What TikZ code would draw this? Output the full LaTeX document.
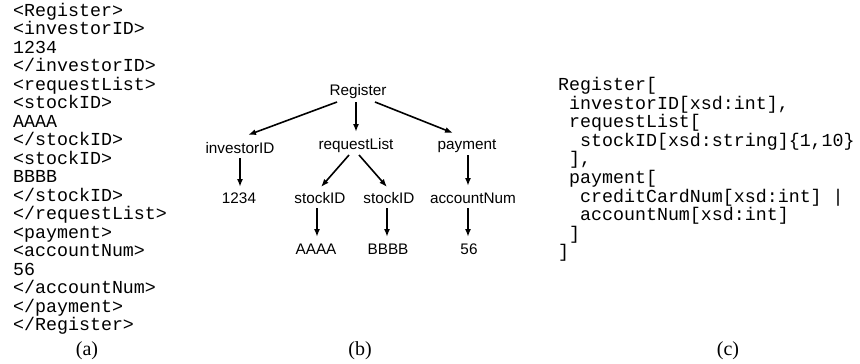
\documentclass[tikz,border=0pt]{standalone}
\usepackage{fontspec}
\setmainfont{Liberation Serif}
\setsansfont{Liberation Sans}
\setmonofont{Liberation Mono}
\usetikzlibrary{arrows.meta}
\begin{document}
\begin{tikzpicture}[x=1pt,y=-1pt,
  code/.style={inner sep=0pt, anchor=north west, align=left, font=\ttfamily\fontsize{18.3}{18.5}\selectfont},
  tn/.style={inner sep=0pt, anchor=base, font=\sffamily\fontsize{15.3}{15.3}\selectfont},
  captext/.style={inner sep=0pt, anchor=base, font=\rmfamily\fontsize{20}{20}\selectfont},
  arr/.style={line width=1.6pt, -{Latex[length=8pt,width=6pt]}}]
\useasboundingbox (0,0) rectangle (860,364);
% (a)
\node[code] (xml) at (13,3) {<Register>\\<investorID>\\1234\\</investorID>\\<requestList>\\<stockID>\\AAAA\\</stockID>\\<stockID>\\BBBB\\</stockID>\\</requestList>\\<payment>\\<accountNum>\\56\\</accountNum>\\</payment>\\</Register>};
% (c)
\node[code, font=\ttfamily\fontsize{18.3}{18.6}\selectfont] (schema) at (558,77) {Register[\\\ investorID[xsd:int],\\\ requestList[\\\ \ stockID[xsd:string]\{1,10\}\\\ ],\\\ payment[\\\ \ creditCardNum[xsd:int] |\\\ \ accountNum[xsd:int]\\\ ]\\]};
% (b) tree
\node[tn] (reg) at (358,95) {Register};
\node[tn] (inv) at (240,153) {investorID};
\node[tn] (req) at (356,149) {requestList};
\node[tn] (pay) at (467,149) {payment};
\node[tn] (n1234) at (239,203) {1234};
\node[tn] (s1) at (320,203) {stockID};
\node[tn] (s2) at (389,203) {stockID};
\node[tn] (acc) at (473,203) {accountNum};
\node[tn] (aaaa) at (316,254) {AAAA};
\node[tn] (bbbb) at (388,254) {BBBB};
\node[tn] (n56) at (469,254) {56};
\draw[arr] ([shift={(-21,7)}]reg.base) -- ([shift={(8,-18)}]inv.base);
\draw[arr] ([shift={(-2,7)}]reg.base) -- ([shift={(0,-17)}]req.base);
\draw[arr] ([shift={(17,7)}]reg.base) -- ([shift={(-14,-16)}]pay.base);
\draw[arr] ([shift={(0,5)}]inv.base) -- ([shift={(1,-16)}]n1234.base);
\draw[arr] ([shift={(-7,6)}]req.base) -- ([shift={(1,-16)}]s1.base);
\draw[arr] ([shift={(3,6)}]req.base) -- ([shift={(-2,-16)}]s2.base);
\draw[arr] ([shift={(1,6)}]pay.base) -- ([shift={(-5,-17)}]acc.base);
\draw[arr] ([shift={(-3,5)}]s1.base) -- ([shift={(1,-17)}]aaaa.base);
\draw[arr] ([shift={(-2,5)}]s2.base) -- ([shift={(-1,-17)}]bbbb.base);
\draw[arr] ([shift={(-5,5)}]acc.base) -- ([shift={(-1,-17)}]n56.base);
% captions
\node[captext] (ca) at (87,355) {(a)};
\node[captext] (cb) at (360,355) {(b)};
\node[captext] (cc) at (728,355) {(c)};
\end{tikzpicture}
\end{document}
